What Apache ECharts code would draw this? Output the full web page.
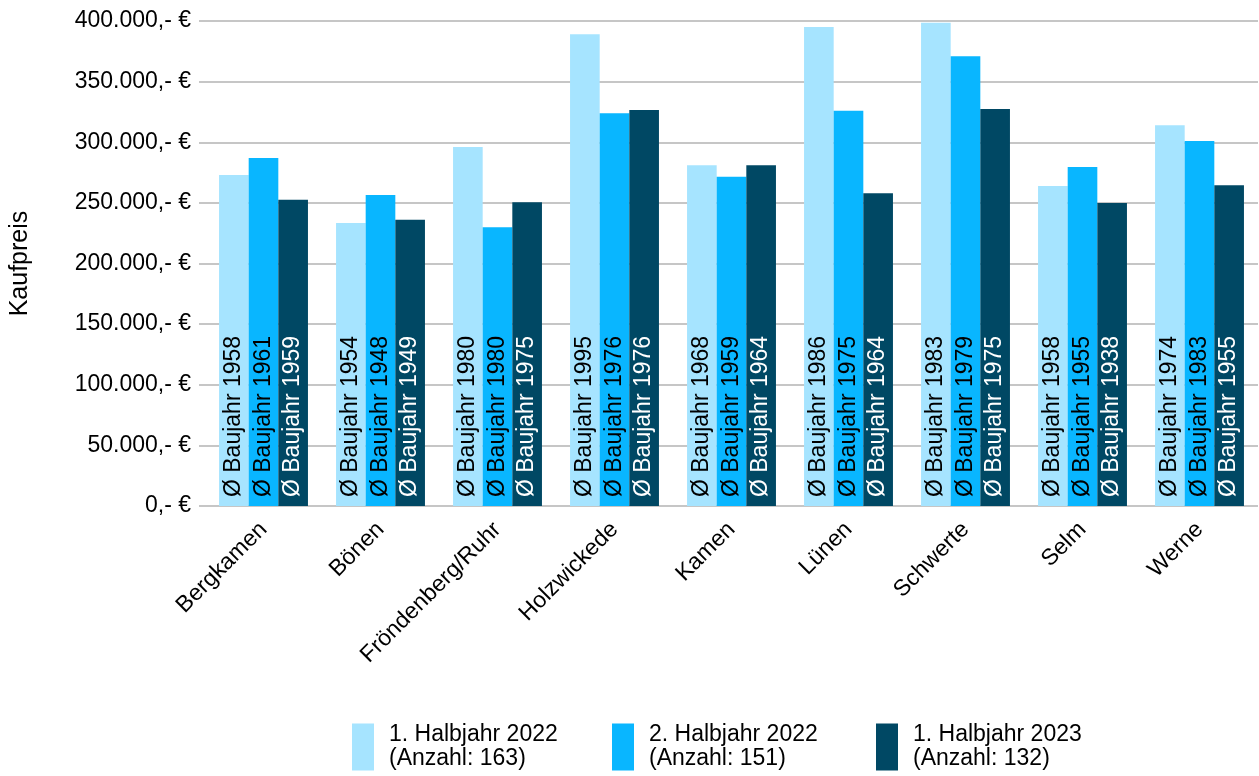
<!DOCTYPE html>
<html>
<head>
<meta charset="utf-8">
<script src="https://cdn.jsdelivr.net/npm/echarts@6/dist/echarts.min.js"></script>
<style>
  html, body { margin: 0; padding: 0; background: #ffffff; }
  #chart { width: 1259px; height: 776px; }
</style>
</head>
<body>
<div id="chart"></div>
<script>
// Orte (Kategorien)
const categories = ['Bergkamen', 'Bönen', 'Fröndenberg/Ruhr', 'Holzwickede', 'Kamen', 'Lünen', 'Schwerte', 'Selm', 'Werne'];

// Zeiträume und Anzahl der Kauffälle
const periods = ['1. Halbjahr 2022', '2. Halbjahr 2022', '1. Halbjahr 2023'];
const counts = [163, 151, 132];

// Durchschnittlicher Kaufpreis in Euro
const price2022H1 = [273000, 233500, 296000, 389000, 281000, 395000, 398500, 264000, 314000];
const price2022H2 = [287000, 256500, 230000, 324000, 271500, 326000, 371000, 279500, 301000];
const price2023H1 = [252500, 236000, 250500, 326500, 281000, 258000, 327500, 250000, 264500];

// Durchschnittliches Baujahr
const year2022H1 = [1958, 1954, 1980, 1995, 1968, 1986, 1983, 1958, 1974];
const year2022H2 = [1961, 1948, 1980, 1976, 1959, 1975, 1979, 1955, 1983];
const year2023H1 = [1959, 1949, 1975, 1976, 1964, 1964, 1975, 1938, 1955];

// Achsenbeschriftung
const yMin = 0, yMax = 400000, yStep = 50000;
const yAxisTitle = 'Kaufpreis';

const colors = ['#a6e4ff', '#09b6ff', '#004864'];
const labelColors = ['#000000', '#000000', '#ffffff'];
const prices = [price2022H1, price2022H2, price2023H1];
const years = [year2022H1, year2022H2, year2023H1];

const FONT = '"Liberation Sans", Arial, sans-serif';

function euro(v) {
  return String(v).replace(/\B(?=(\d{3})+(?!\d))/g, '.') + ',- €';
}

const series = periods.map((name, i) => ({
  name: name,
  type: 'bar',
  barGap: 0,
  barCategoryGap: '24%',
  itemStyle: { color: colors[i] },
  data: prices[i].map((v, j) => ({ value: v, baujahr: years[i][j] })),
  label: {
    show: true,
    position: 'insideBottom',
    distance: 9,
    rotate: 90,
    align: 'left',
    verticalAlign: 'middle',
    fontFamily: FONT,
    fontSize: 23,
    color: labelColors[i],
    formatter: p => 'Ø Baujahr ' + p.data.baujahr
  }
}));

const legendLeft = [347, 607, 871];
const legends = periods.map((name, i) => ({
  data: [name],
  left: legendLeft[i],
  top: 718,
  orient: 'horizontal',
  itemWidth: 22,
  itemHeight: 47,
  icon: 'rect',
  selectedMode: false,
  formatter: n => n + '\n(Anzahl: ' + counts[i] + ')',
  textStyle: {
    fontFamily: FONT,
    fontSize: 23,
    lineHeight: 24,
    color: '#000000',
    padding: [0, 0, 0, 10]
  }
}));

const chart = echarts.init(document.getElementById('chart'), null, { renderer: 'canvas' });
chart.setOption({
  animation: false,
  backgroundColor: '#ffffff',
  grid: { left: 205, right: 1, top: 21, bottom: 270, outerBoundsMode: 'none' },
  legend: legends,
  xAxis: {
    type: 'category',
    data: categories,
    axisLine: { show: false },
    axisTick: { show: false },
    axisLabel: {
      rotate: 45,
      interval: 0,
      margin: 20,
      fontFamily: FONT,
      fontSize: 23,
      color: '#000000'
    }
  },
  yAxis: {
    type: 'value',
    min: yMin,
    max: yMax,
    interval: yStep,
    name: yAxisTitle,
    nameLocation: 'middle',
    nameGap: 172,
    nameTextStyle: { fontFamily: FONT, fontSize: 25, color: '#000000' },
    axisLine: { show: false },
    axisTick: { show: true, length: 6, lineStyle: { color: '#c6c6c6', width: 2 } },
    splitLine: { lineStyle: { color: '#c6c6c6', width: 2 } },
    axisLabel: {
      margin: 14,
      fontFamily: FONT,
      fontSize: 23,
      color: '#000000',
      formatter: euro
    }
  },
  series: series
});
</script>
</body>
</html>
